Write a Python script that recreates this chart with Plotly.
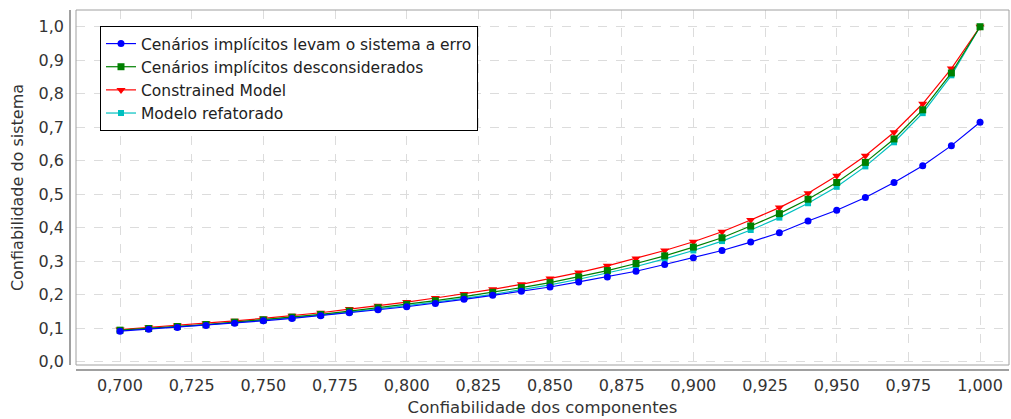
import plotly.graph_objects as go

x_vals = [0.70, 0.71, 0.72, 0.73, 0.74, 0.75, 0.76, 0.77, 0.78, 0.79, 0.80,
          0.81, 0.82, 0.83, 0.84, 0.85, 0.86, 0.87, 0.88, 0.89, 0.90,
          0.91, 0.92, 0.93, 0.94, 0.95, 0.96, 0.97, 0.98, 0.99, 1.00]

blue_vals = [0.091, 0.097, 0.102, 0.108, 0.115, 0.122, 0.129, 0.137, 0.146, 0.155, 0.164,
             0.174, 0.186, 0.198, 0.210, 0.223, 0.238, 0.253, 0.270, 0.290, 0.310,
             0.332, 0.357, 0.385, 0.420, 0.452, 0.490, 0.535, 0.585, 0.645, 0.715]

green_vals = [0.094, 0.099, 0.105, 0.111, 0.118, 0.125, 0.133, 0.141, 0.151, 0.161, 0.171,
              0.182, 0.194, 0.207, 0.221, 0.236, 0.253, 0.272, 0.293, 0.316, 0.342,
              0.370, 0.405, 0.442, 0.485, 0.535, 0.595, 0.665, 0.752, 0.862, 1.000]

red_vals = [0.096, 0.102, 0.108, 0.115, 0.122, 0.129, 0.137, 0.146, 0.157, 0.167, 0.178,
            0.190, 0.202, 0.216, 0.231, 0.248, 0.266, 0.286, 0.308, 0.332, 0.358,
            0.388, 0.423, 0.460, 0.503, 0.555, 0.615, 0.685, 0.770, 0.875, 1.000]

cyan_vals = [0.093, 0.098, 0.104, 0.110, 0.117, 0.124, 0.131, 0.139, 0.148, 0.157, 0.167,
             0.178, 0.189, 0.201, 0.215, 0.229, 0.246, 0.264, 0.284, 0.307, 0.332,
             0.360, 0.393, 0.430, 0.473, 0.522, 0.583, 0.655, 0.742, 0.855, 1.000]

series_names = ["Cenários implícitos levam o sistema a erro",
                "Cenários implícitos desconsiderados",
                "Constrained Model",
                "Modelo refatorado"]

x_ticks = [0.700, 0.725, 0.750, 0.775, 0.800, 0.825, 0.850, 0.875, 0.900, 0.925, 0.950, 0.975, 1.000]
x_tick_text = ["0,700", "0,725", "0,750", "0,775", "0,800", "0,825", "0,850", "0,875",
               "0,900", "0,925", "0,950", "0,975", "1,000"]
y_ticks = [0.0, 0.1, 0.2, 0.3, 0.4, 0.5, 0.6, 0.7, 0.8, 0.9, 1.0]
y_tick_text = ["0,0", "0,1", "0,2", "0,3", "0,4", "0,5", "0,6", "0,7", "0,8", "0,9", "1,0"]

FONT = "DejaVu Sans"
TXT = "#333333"

fig = go.Figure()
# drawn in reverse order so the first series sits on top
specs = [
    (cyan_vals, series_names[3], "#00c0c0", "square", 6, 4),
    (red_vals, series_names[2], "#ff0000", "triangle-down", 8, 3),
    (green_vals, series_names[1], "#008000", "square", 7, 2),
    (blue_vals, series_names[0], "#0000ff", "circle", 7, 1),
]
for vals, name, color, sym, size, rank in specs:
    fig.add_trace(go.Scatter(
        x=x_vals, y=vals, name=name, mode="lines+markers",
        line=dict(color=color, width=1.2),
        marker=dict(color=color, symbol=sym, size=size, line=dict(width=0)),
        legendrank=rank,
    ))

L, R, T, B = 76, 2, 10, 54
W, H = 1011, 419
pw, ph = W - L - R, H - T - B

fig.update_layout(
    width=W, height=H,
    margin=dict(l=L, r=R, t=T, b=B, autoexpand=False),
    paper_bgcolor="white", plot_bgcolor="white",
    font=dict(family=FONT, size=16, color=TXT),
    showlegend=True,
    legend=dict(
        x=(100 - L) / pw, y=(H - B - 26) / ph, xanchor="left", yanchor="top",
        bgcolor="white", bordercolor="black", borderwidth=1,
        font=dict(family=FONT, size=15.5, color="#222222"),
        itemwidth=30, tracegroupgap=0,
    ),
    xaxis=dict(
        range=[0.68465, 1.0101], automargin=False,
        tickvals=x_ticks, ticktext=x_tick_text,
        showgrid=True, gridcolor="#dcdcdc", griddash="dash", gridwidth=1,
        zeroline=False, showline=False, ticks="",
        tickfont=dict(family=FONT, size=16, color=TXT),
        ticklabelstandoff=9,
        title=dict(text="Confiabilidade dos componentes",
                   font=dict(family=FONT, size=16.5, color=TXT), standoff=7),
    ),
    yaxis=dict(
        range=[-0.01, 1.05], automargin=False,
        tickvals=y_ticks, ticktext=y_tick_text,
        showgrid=True, gridcolor="#dcdcdc", griddash="dash", gridwidth=1,
        zeroline=False, showline=False, ticks="",
        tickfont=dict(family=FONT, size=16, color=TXT),
        ticklabelstandoff=11,
        title=dict(text="Confiabilidade do sistema",
                   font=dict(family=FONT, size=16, color=TXT), standoff=10),
    ),
    shapes=[
        dict(type="rect", xref="paper", yref="paper", x0=0, x1=1, y0=0, y1=1,
             line=dict(color="#a0a0a0", width=1)),
        dict(type="line", xref="paper", yref="paper",
             x0=-6 / pw, x1=-6 / pw, y0=0, y1=1,
             line=dict(color="#a0a0a0", width=2)),
        dict(type="line", xref="paper", yref="paper",
             x0=0, x1=1, y0=-5 / ph, y1=-5 / ph,
             line=dict(color="#a0a0a0", width=2)),
    ],
)

fig.write_html("out.html", config={"displayModeBar": False},
               post_script="document.body.style.margin='0';")
